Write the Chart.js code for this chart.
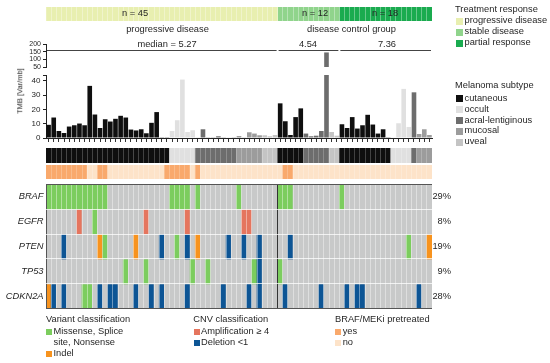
<!DOCTYPE html>
<html>
<head>
<meta charset="utf-8">
<title>TMB and oncoprint by treatment response</title>
<script src="https://cdn.jsdelivr.net/npm/chart.js@4.4.1/dist/chart.umd.min.js"></script>
<style>
  html, body { margin: 0; padding: 0; background: #fff; }
  #page { position: relative; width: 550px; height: 363px; overflow: hidden;
    font-family: "Liberation Sans", Arial, sans-serif; font-size: 9.3px; color: #262626; }
  .txt { position: absolute; white-space: nowrap; line-height: 1; }
  .sw { position: absolute; }
</style>
</head>
<body>
<div id="page"></div>
<script>
// ---- values ----
const N_SAMPLES = 75;
const SAMPLE_IDS = Array.from({ length: N_SAMPLES }, (_, i) => `pt${i + 1}`);

const RESPONSE_GROUPS = ["progressive disease", "stable disease", "partial response"];
const RESPONSE_COUNTS = [45, 12, 18];
const RESPONSE_COLORS = ["#e8efb0", "#90d48c", "#1aab4f"];

// tumour mutational burden per sample, left to right
const TMB = [
  9.2, 14.3, 4.9, 3.5, 8.0, 8.9, 10.1, 8.9, 36.4, 16.4, 7.0, 13.1, 11.5, 13.4, 15.5, 14.3, 5.9, 5.27, 6.1, 3.3, 10.6, 18.1, 0.2, 0.2,
  4.9, 12.4, 40.8, 4.2, 5.4, 0.3, 6.1, 0.5, 0.5, 1.2, 0.5, 0.3, 0.5, 1.4, 0.5, 4.0, 3.1, 1.9, 1.9, 1.2, 2.1,
  24.2, 11.7, 2.1, 14.6, 20.7, 3.1, 1.2, 1.6, 4.88, 145, 4.2, 1.6,
  9.6, 7.0, 14.6, 6.6, 8.9, 16.2, 9.4, 3.1, 6.1, 0.2, 0.2, 10.3, 34.3, 7.72, 31.9, 2.8, 6.1, 2.1,
];
const TMB_LOW_TICKS = [0, 10, 20, 30, 40];
const TMB_LOW_MAX = 44;
const TMB_HIGH_TICKS = [50, 100, 150, 200];

const SUBTYPES = ["cutaneous", "occult", "acral-lentiginous", "mucosal", "uveal"];
const SUBTYPE_KEYS = "COAMU";
const SUBTYPE_COLORS = ["#0f0f0f", "#e0e0e0", "#6d6d6d", "#9c9c9c", "#c4c4c4"];
const SUBTYPE_CODES = "CCCCC CCCCC CCCCC CCCCC CCCCO OOOOA AAAAA AAMMM MMUUU CCCCC AAAAA UUCCC CCCCC CCOOO OAMMM";

const PRETREATED_LABELS = ["yes", "no"];
const PRETREATED_COLORS = ["#f9a96c", "#fde3c9"];
const PRETREATED = "YYYYY YYY.. YY... ..... ...YY YYY.Y ..... ..... ..... .YY.. ..... ..... ..... ..... .....";

// M missense/splice/nonsense, I indel, A amplification, D deletion, . none
const GENES = ["BRAF", "EGFR", "PTEN", "TP53", "CDKN2A"];
const GENE_ALTERATIONS = [
  "MMMMM MMMMM MM... ..... ....M MMM.M ..... ..M.. ..... MMM.. ..... ..M.. ..... ..... .....",
  "..... .A..M ..... ....A ..... ..A.. ..... ...AA ..... ..... ..... ..... ..... ..... .....",
  "...D. ..... IM... ..I.. ..D.. M.D.I ..... D..D. .D... ..D.. ..... ..... ..... ..... M...I",
  "..... ..... ..... M...M ..... ...M. .M... ..... MD... M.... ..... ..... ..... ..... .....",
  "ID.D. ..MM. D.DD. ..D.. D.D.. ..D.. ....D ....D .D... .D... ...D. ...D. DD... ..... ..D..",
];
const ALT_COLORS = { ".": "#c8c9c9", M: "#7ccd5e", I: "#f7931e", A: "#e5755e", D: "#0d5595" };

// ---- derived ----
const cells = (s) => s.replace(/\s+/g, "").split("");
const CELL = SAMPLE_IDS.map(() => 1);
const subtypeCells = cells(SUBTYPE_CODES);
const subtypeColors = subtypeCells.map((c) => SUBTYPE_COLORS[SUBTYPE_KEYS.indexOf(c)]);
const pretreatedColors = cells(PRETREATED).map((c) => PRETREATED_COLORS[c === "Y" ? 0 : 1]);
const geneCells = GENE_ALTERATIONS.map(cells);
const PCT_LABELS = geneCells.map((row) => Math.round((row.filter((c) => c !== ".").length / N_SAMPLES) * 100) + "%");
const nTotal = RESPONSE_COUNTS.reduce((a, b) => a + b, 0);

function median(arr) {
  const s = [...arr].sort((a, b) => a - b);
  const m = Math.floor(s.length / 2);
  return s.length % 2 ? s[m] : (s[m - 1] + s[m]) / 2;
}
const groupMedians = [];
{
  let start = 0;
  for (const n of RESPONSE_COUNTS) {
    groupMedians.push(median(TMB.slice(start, start + n)).toFixed(2));
    start += n;
  }
}

// ---- page helpers ----
const FONT = '"Liberation Sans", Arial, sans-serif';
const INK = "#262626";
Chart.defaults.font.family = FONT;
Chart.defaults.font.size = 9.3;
Chart.defaults.color = INK;
Chart.defaults.animation = false;
Chart.defaults.responsive = false;
Chart.defaults.maintainAspectRatio = false;
Chart.defaults.events = [];
Chart.defaults.plugins.legend.display = false;
Chart.defaults.plugins.tooltip.enabled = false;

const page = document.getElementById("page");

function addCanvas(id, top, height) {
  const c = document.createElement("canvas");
  c.id = id;
  c.width = 550;
  c.height = height;
  c.style.cssText = `position:absolute;left:0;top:${top}px;width:550px;height:${height}px`;
  page.appendChild(c);
  return c;
}

function text(str, x, y, opts = {}) {
  const d = document.createElement("div");
  d.className = "txt";
  d.textContent = str;
  d.style.left = x + "px";
  d.style.top = y + "px";
  let tf = opts.center ? "translate(-50%,-50%)" : "translateY(-50%)";
  if (opts.rotate) tf += " rotate(-90deg)";
  d.style.transform = tf;
  if (opts.size) d.style.fontSize = opts.size + "px";
  page.appendChild(d);
}

function swatch(color, x, y, size) {
  const d = document.createElement("div");
  d.className = "sw";
  d.style.cssText += `left:${x}px;top:${y - size / 2}px;width:${size}px;height:${size}px;background:${color}`;
  page.appendChild(d);
}

// bracket line over each response group
const bracketPlugin = {
  id: "groupBrackets",
  afterDraw(chart) {
    const x = chart.scales.x;
    const half = (x.getPixelForValue(1) - x.getPixelForValue(0)) / 2;
    const y = Math.round(chart.chartArea.top + 6) + 0.5;
    const ctx = chart.ctx;
    ctx.save();
    ctx.strokeStyle = "#444";
    ctx.lineWidth = 1;
    let start = 0;
    for (const n of RESPONSE_COUNTS) {
      const x0 = x.getPixelForValue(start) - half + 1;
      const x1 = x.getPixelForValue(start + n - 1) + half - 1;
      ctx.beginPath();
      ctx.moveTo(x0, y);
      ctx.lineTo(x1, y);
      ctx.stroke();
      start += n;
    }
    ctx.restore();
  },
};

// ---- treatment response strip ----
new Chart(addCanvas("response", 7, 14), {
  type: "bar",
  data: {
    labels: ["Treatment response"],
    datasets: RESPONSE_GROUPS.map((g, i) => ({
      label: g,
      data: [RESPONSE_COUNTS[i]],
      backgroundColor: RESPONSE_COLORS[i],
      barPercentage: 1,
      categoryPercentage: 1,
    })),
  },
  options: {
    indexAxis: "y",
    layout: { padding: { left: 46, right: 118 } },
    scales: {
      x: {
        stacked: true, min: 0, max: nTotal,
        afterBuildTicks: (s) => { s.ticks = Array.from({ length: nTotal + 1 }, (_, i) => ({ value: i })); },
        ticks: { display: false },
        border: { display: false },
        grid: {
          drawTicks: false, z: 1,
          color: (ctx) => (ctx.tick && ctx.tick.value > 0 && ctx.tick.value < nTotal ? "rgba(255,255,255,0.35)" : "transparent"),
        },
        afterFit: (s) => { s.height = 0; },
      },
      y: { stacked: true, display: false },
    },
  },
});

// ---- TMB, broken axis: upper window ----
new Chart(addCanvas("tmb-high", 37, 37), {
  type: "bar",
  data: {
    labels: SAMPLE_IDS,
    datasets: [{ label: "TMB", data: TMB, backgroundColor: subtypeColors, barPercentage: 0.9, categoryPercentage: 1 }],
  },
  options: {
    layout: { padding: { top: 7, bottom: 7, right: 118 } },
    scales: {
      x: { display: false },
      y: {
        min: TMB_HIGH_TICKS[0], max: TMB_HIGH_TICKS[TMB_HIGH_TICKS.length - 1],
        afterBuildTicks: (s) => { s.ticks = TMB_HIGH_TICKS.map((v) => ({ value: v })); },
        ticks: { autoSkip: false, padding: 2, font: { size: 7 }, color: INK },
        grid: { drawOnChartArea: false, tickLength: 3, color: "#222" },
        border: { color: "#222" },
        afterFit: (s) => { s.width = 46; },
      },
    },
  },
  plugins: [bracketPlugin],
});

// ---- TMB, lower window ----
new Chart(addCanvas("tmb-low", 67, 79), {
  type: "bar",
  data: {
    labels: SAMPLE_IDS,
    datasets: [{ label: "TMB", data: TMB, backgroundColor: subtypeColors, barPercentage: 0.9, categoryPercentage: 1 }],
  },
  options: {
    layout: { padding: { top: 8, bottom: 2, right: 118 } },
    scales: {
      x: {
        ticks: { display: false },
        border: { color: "#222" },
        grid: { drawOnChartArea: false, offset: false, tickLength: 4, color: "#333" },
        afterFit: (s) => { s.height = 6; },
      },
      y: {
        min: 0, max: TMB_LOW_MAX,
        afterBuildTicks: (s) => { s.ticks = TMB_LOW_TICKS.concat(TMB_LOW_MAX).map((v) => ({ value: v })); },
        ticks: {
          autoSkip: false, padding: 2.5, font: { size: 8 }, color: INK,
          callback: (v) => (TMB_LOW_TICKS.includes(v) ? v : ""),
        },
        grid: { drawOnChartArea: false, tickLength: 3, color: "#222" },
        border: { color: "#222" },
        afterFit: (s) => { s.width = 46; },
      },
    },
  },
});

// ---- annotation strips ----
function stripChart(id, top, height, colors, label) {
  return new Chart(addCanvas(id, top, height), {
    type: "bar",
    data: {
      labels: SAMPLE_IDS,
      datasets: [{ label, data: CELL, backgroundColor: colors, barPercentage: 1, categoryPercentage: 1 }],
    },
    options: {
      layout: { padding: { left: 46, right: 118 } },
      scales: {
        x: {
          ticks: { display: false },
          border: { display: false },
          grid: {
            drawTicks: false, z: 1,
            color: (ctx) => (ctx.index > 0 && ctx.index < N_SAMPLES ? "rgba(255,255,255,0.22)" : "transparent"),
          },
          afterFit: (s) => { s.height = 0; },
        },
        y: { display: false, min: 0, max: 1 },
      },
    },
  });
}
stripChart("subtype", 148, 15, subtypeColors, "Melanoma subtype");
stripChart("pretreated", 165, 14, pretreatedColors, "BRAF/MEKi pretreated");

// ---- oncoprint ----
const groupBoundary = RESPONSE_COUNTS[0];
new Chart(addCanvas("oncoprint", 176, 141), {
  type: "bar",
  data: {
    labels: SAMPLE_IDS,
    datasets: GENES.map((g, r) => ({
      label: g,
      data: CELL,
      backgroundColor: geneCells[r].map((c) => ALT_COLORS[c]),
      barPercentage: 1,
      categoryPercentage: 1,
    })),
  },
  options: {
    layout: { padding: { top: 8, bottom: 8, right: 99 } },
    scales: {
      x: {
        stacked: true,
        ticks: { display: false },
        border: { display: false },
        grid: {
          drawTicks: false, z: 1,
          color: (ctx) => {
            if (ctx.index === 0 || ctx.index === N_SAMPLES) return "#555";
            if (ctx.index === groupBoundary) return "#333";
            return "rgba(255,255,255,0.4)";
          },
        },
        afterFit: (s) => { s.height = 0; },
      },
      y: {
        stacked: true, reverse: true, min: 0, max: GENES.length, position: "left",
        afterBuildTicks: (s) => { s.ticks = Array.from({ length: GENES.length + 1 }, (_, i) => ({ value: i })); },
        ticks: { display: false },
        border: { display: false },
        grid: {
          drawTicks: false, z: 1,
          color: (ctx) => (ctx.tick.value === 0 || ctx.tick.value === GENES.length ? "#555" : "rgba(255,255,255,0.75)"),
        },
        afterFit: (s) => { s.width = 0; },
      },
      genes: {
        type: "category", labels: GENES, position: "left", offset: true,
        grid: { display: false, drawTicks: false }, border: { display: false },
        ticks: { padding: 2.5, font: { size: 9.3, style: "italic" }, color: INK },
        afterFit: (s) => { s.width = 46; },
      },
      pct: {
        type: "category", labels: PCT_LABELS, position: "right", offset: true,
        grid: { display: false, drawTicks: false }, border: { display: false },
        ticks: { crossAlign: "far", padding: 0, font: { size: 9.3 }, color: INK },
        afterFit: (s) => { s.width = 19; },
      },
    },
  },
});

// ---- text ----
const N_LABEL_X = [135, 315, 385];
RESPONSE_COUNTS.forEach((n, i) => text(`n = ${n}`, N_LABEL_X[i], 14, { center: true }));
text("progressive disease", 167.5, 30, { center: true });
text("disease control group", 351.5, 29.5, { center: true });
const MEDIAN_X = [167, 308, 387];
groupMedians.forEach((m, i) => text(i === 0 ? `median = ${m}` : m, MEDIAN_X[i], 44.5, { center: true }));
text("TMB [Var/mb]", 20, 90.5, { center: true, rotate: true, size: 7.5 });

// legends, right column
text("Treatment response", 455, 9.5);
RESPONSE_GROUPS.forEach((g, i) => {
  swatch(RESPONSE_COLORS[i], 456, 21.3 + i * 11, 7);
  text(g, 464.5, 21.3 + i * 11);
});
text("Melanoma subtype", 455, 86);
SUBTYPES.forEach((s, i) => {
  swatch(SUBTYPE_COLORS[i], 456, 98.7 + i * 10.9, 7);
  text(s, 464.5, 98.7 + i * 10.9);
});

// legends, bottom row
text("Variant classification", 46, 320);
swatch(ALT_COLORS.M, 46, 331.7, 6);
text("Missense, Splice", 53.5, 331.7);
text("site, Nonsense", 53.5, 342.7);
swatch(ALT_COLORS.I, 46, 353.7, 6);
text("Indel", 53.5, 353.7);

text("CNV classification", 193.3, 320);
swatch(ALT_COLORS.A, 193.5, 331.7, 6);
text("Amplification \u2265 4", 201, 331.7);
swatch(ALT_COLORS.D, 193.5, 342.7, 6);
text("Deletion <1", 201, 342.7);

text("BRAF/MEKi pretreated", 335, 320);
PRETREATED_LABELS.forEach((l, i) => {
  swatch(PRETREATED_COLORS[i], 335, 332 + i * 11, 6);
  text(l, 342.7, 332 + i * 11);
});
</script>
</body>
</html>
